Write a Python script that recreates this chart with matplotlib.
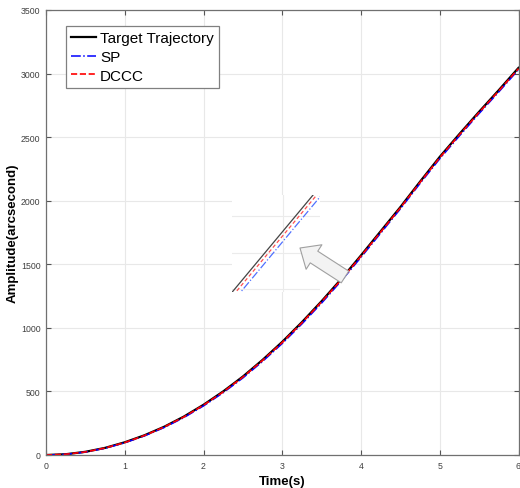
import matplotlib
matplotlib.use("Agg")
import matplotlib.pyplot as plt
from matplotlib.patches import FancyArrowPatch

plt.rcParams["font.family"] = ["Liberation Sans", "DejaVu Sans"]

# time axis (s) and amplitudes (arcsecond)
t = [0.0, 0.25, 0.5, 0.75, 1.0, 1.25, 1.5, 1.75, 2.0, 2.25, 2.5, 2.75, 3.0,
     3.25, 3.5, 3.75, 4.0, 4.25, 4.5, 4.75, 5.0, 5.25, 5.5, 5.75, 6.0]
target = [0, 6, 25, 56, 100, 155, 222, 302, 395, 500, 617, 748, 890,
          1045, 1210, 1385, 1570, 1760, 1950, 2150, 2345, 2525, 2700, 2870, 3045]
sp = [0, 5, 23, 53, 96, 150, 216, 294, 386, 490, 606, 736, 877,
      1031, 1195, 1370, 1555, 1745, 1936, 2136, 2330, 2510, 2686, 2856, 3031]
dccc = [0, 6, 24, 55, 98, 153, 220, 299, 392, 496, 613, 744, 885,
        1040, 1205, 1379, 1564, 1754, 1944, 2144, 2339, 2519, 2694, 2864, 3039]

labels = ["Target Trajectory", "SP", "DCCC"]
xticks = [0, 1, 2, 3, 4, 5, 6]
yticks = [0, 500, 1000, 1500, 2000, 2500, 3000, 3500]

W, H = 520, 489
fig = plt.figure(figsize=(W / 100, H / 100), dpi=100)
ax = fig.add_axes([46 / W, 1 - 456 / H, 472.5 / W, 445 / H])

ax.plot(t, target, color="black", lw=1.6, label=labels[0])
ax.plot(t, sp, color="#0000ff", lw=1.1, ls="-.", label=labels[1])
ax.plot(t, dccc, color="#ff0000", lw=1.2, ls="--", label=labels[2])

ax.set_xlim(0, 6)
ax.set_ylim(0, 3500)
ax.set_xticks(xticks)
ax.set_yticks(yticks)
ax.grid(True, color="#e8e8e8", lw=0.8)
ax.set_axisbelow(True)
ax.tick_params(direction="in", length=3.5, width=0.8, labelsize=6.3, pad=4,
               colors="#555555", labelcolor="#404040",
               top=True, right=True)
for s in ax.spines.values():
    s.set_color("#707070")
    s.set_linewidth(0.9)

ax.set_xlabel("Time(s)", fontsize=9.5, fontweight="bold", labelpad=4)
ax.set_ylabel("Amplitude(arcsecond)", fontsize=9.5, fontweight="bold")
ax.yaxis.set_label_coords(-0.058, 0.5)

leg = ax.legend(loc="upper left", bbox_to_anchor=(0.042, 0.964), borderaxespad=0,
                fontsize=11, fancybox=False, framealpha=1, edgecolor="#808080",
                handlelength=1.6, handletextpad=0.3, labelspacing=0.3,
                borderpad=0.35)
leg.get_frame().set_linewidth(0.9)

# zoomed inset
ins = fig.add_axes([232 / W, 1 - 293 / H, 88 / W, 97 / H])
ins.plot(t, target, color="#444444", lw=0.9)
ins.plot(t, dccc, color="#ff5050", lw=0.9, ls="--", dashes=(3, 2))
ins.plot(t, sp, color="#5070ff", lw=0.9, ls="-.")
ins.set_xlim(4.557, 4.738)
ins.set_ylim(1996, 2129)
ins.set_xticks([4.6625])
ins.set_yticks([2000, 2050, 2100])
ins.grid(True, color="#ebebeb", lw=0.8)
ins.tick_params(length=0, labelbottom=False, labelleft=False)
for s in ins.spines.values():
    s.set_visible(False)

# arrow pointing to the inset, drawn above both axes
arrow = FancyArrowPatch((345 / W, 1 - 278 / H), (300 / W, 1 - 249 / H),
                        transform=fig.transFigure,
                        arrowstyle="simple,head_length=12,head_width=21,tail_width=10",
                        mutation_scale=1, fc="#f3f3f3", ec="#a0a0a0", lw=0.8,
                        shrinkA=0, shrinkB=0, zorder=10)
fig.add_artist(arrow)

fig.savefig("out.png", dpi=100)
